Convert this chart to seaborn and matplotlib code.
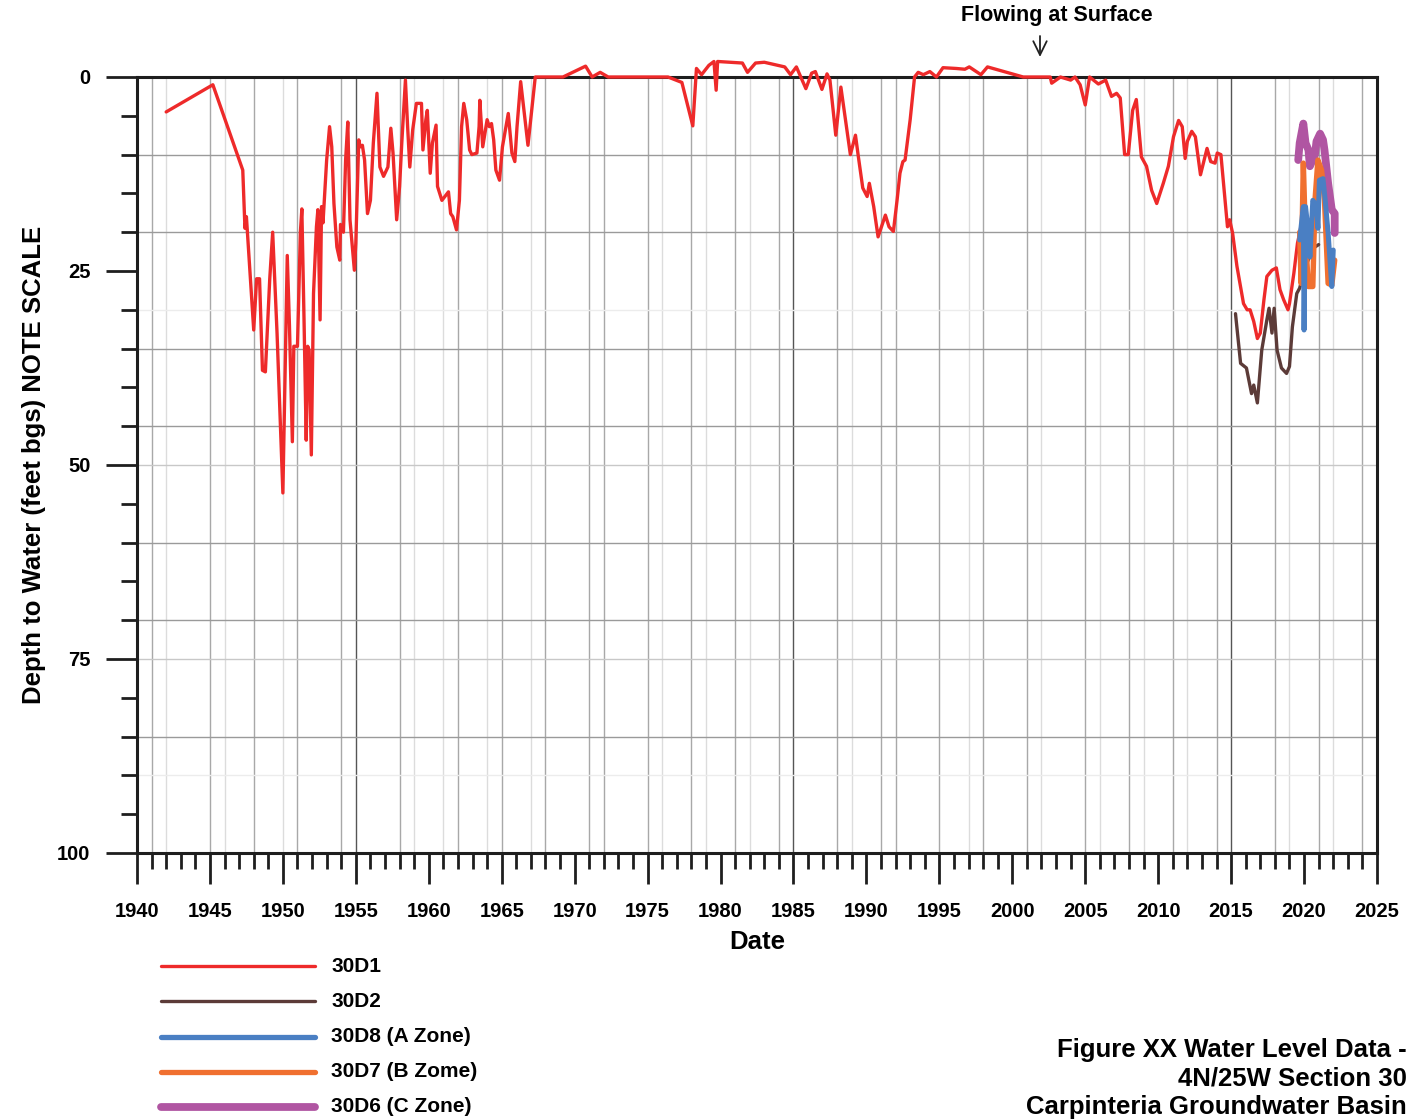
import matplotlib
matplotlib.use("Agg")
import matplotlib.pyplot as plt
import seaborn as sns
import pandas as pd
from matplotlib.lines import Line2D

# ---------------- data (decimal year, depth to water in feet bgs) ----------------
d1_year = [1942.0, 1945.2, 1947.25, 1947.4, 1947.5, 1948.0, 1948.2, 1948.4, 1948.6, 1948.8,
           1949.1, 1949.3, 1949.6, 1949.75, 1950.0, 1950.3, 1950.45, 1950.65, 1950.75, 1951.0,
           1951.2, 1951.3, 1951.45, 1951.6, 1951.7, 1951.8, 1951.95, 1952.1, 1952.3, 1952.4,
           1952.55, 1952.65, 1952.75, 1953.0, 1953.2, 1953.35, 1953.5, 1953.7, 1953.9, 1953.95,
           1954.15, 1954.3, 1954.45, 1954.6, 1954.9, 1955.0, 1955.2, 1955.3, 1955.45, 1955.6,
           1955.8, 1956.0, 1956.2, 1956.45, 1956.65, 1956.9, 1957.2, 1957.4, 1957.55, 1957.8,
           1958.0, 1958.15, 1958.4, 1958.55, 1958.7, 1958.9, 1959.15, 1959.5, 1959.6, 1959.8,
           1959.9, 1960.1, 1960.25, 1960.5, 1960.6, 1960.9, 1961.35, 1961.5, 1961.65, 1961.9,
           1962.1, 1962.25, 1962.4, 1962.6, 1962.8, 1962.95, 1963.3, 1963.45, 1963.5, 1963.7,
           1964.0, 1964.15, 1964.3, 1964.45, 1964.6, 1964.85, 1965.05, 1965.45, 1965.7, 1965.9,
           1966.05, 1966.3, 1966.8, 1967.3, 1969.2, 1970.75, 1971.2, 1971.75, 1972.3, 1976.4,
           1977.35, 1978.1, 1978.35, 1978.7, 1979.2, 1979.55, 1979.7, 1979.8, 1981.5, 1981.85,
           1982.4, 1983.0, 1984.4, 1984.8, 1985.2, 1985.85, 1986.25, 1986.5, 1986.95, 1987.3,
           1987.5, 1987.9, 1988.25, 1988.6, 1988.9, 1989.25, 1989.45, 1989.75, 1990.05, 1990.2,
           1990.5, 1990.8, 1991.3, 1991.55, 1991.85, 1992.1, 1992.3, 1992.5, 1992.65, 1993.0,
           1993.3, 1993.55, 1993.9, 1994.35, 1994.8, 1995.25, 1996.15, 1996.75, 1997.05, 1997.85,
           1998.3, 2000.75, 2002.6, 2002.7, 2003.3, 2004.0, 2004.3, 2004.65, 2005.0, 2005.3,
           2005.9, 2006.4, 2006.8, 2007.15, 2007.4, 2007.7, 2007.95, 2008.25, 2008.5, 2008.85,
           2009.2, 2009.55, 2009.9, 2010.35, 2010.7, 2011.05, 2011.4, 2011.65, 2011.85, 2012.0,
           2012.3, 2012.55, 2012.9, 2013.35, 2013.6, 2013.9, 2014.05, 2014.3, 2014.75, 2014.9,
           2015.1, 2015.4, 2015.85, 2016.1, 2016.3, 2016.55, 2016.8, 2017.0, 2017.25, 2017.45,
           2017.8, 2018.1, 2018.35, 2018.6, 2018.9, 2019.0, 2019.3, 2019.55, 2019.7, 2020.0]
d1_depth = [4.5, 1.0, 12, 19.5, 18, 32.6, 26, 26, 37.8, 38,
            26, 20, 33, 40.8, 53.6, 23, 32, 47, 34.7, 34.7,
            20, 17, 31.3, 46.8, 34.7, 35.2, 48.7, 27.9, 19.3, 17.1,
            31.3, 16.7, 18.8, 10.7, 6.4, 9, 16.3, 21.9, 23.6, 19,
            20, 10.7, 5.8, 18.4, 24.9, 21.4, 8.1, 9, 8.8, 10.7,
            17.6, 15.9, 8.5, 2.1, 11.6, 12.8, 11.6, 6.6, 9.8, 18.4,
            14.1, 8.5, 0.4, 6.4, 11.6, 6.8, 3.4, 3.4, 9.4, 5.5,
            4.3, 12.4, 8.5, 6.2, 14.1, 15.9, 14.8, 17.6, 18, 19.7,
            15.9, 6.4, 3.4, 5.5, 9.4, 10, 9.8, 6.4, 3, 9,
            5.5, 6.4, 6, 8.1, 12, 13.3, 9, 4.7, 9.8, 10.9,
            6.4, 0.6, 8.8, 0, 0, -1.4, 0, -0.6, 0, 0,
            0.7, 6.3, -1.1, -0.3, -1.5, -2.0, 1.7, -2.0, -1.8, -0.6,
            -1.8, -1.9, -1.3, -0.3, -1.3, 1.5, -0.5, -0.7, 1.6, -0.4,
            0.4, 7.5, 1.3, 6, 10, 7.5, 10.3, 14.3, 15.4, 13.7,
            16.7, 20.6, 17.8, 19.3, 19.9, 15.9, 12.4, 10.9, 10.7, 5.5,
            0, -0.6, -0.3, -0.7, 0, -1.2, -1.1, -1.0, -1.3, -0.3,
            -1.3, 0, 0, 0.8, 0, 0.4, 0, 1.0, 3.6, 0,
            0.9, 0.4, 2.5, 2.1, 2.7, 10, 10, 4.3, 2.9, 10.3,
            11.5, 14.6, 16.3, 13.7, 11.5, 7.7, 5.6, 6.4, 10.5, 8.3,
            7.0, 7.7, 12.6, 9.2, 10.9, 11.1, 9.8, 10, 19.3, 18.4,
            20.1, 24.4, 29.2, 30, 30, 31.5, 33.7, 33, 28.7, 25.7,
            24.9, 24.6, 27.4, 28.7, 30, 29.2, 25.3, 21.4, 20.1, 17.0]

d2_year = [2015.3, 2015.65, 2016.05, 2016.4, 2016.55, 2016.8, 2017.1, 2017.45, 2017.6, 2017.8,
           2017.95, 2018.15, 2018.45, 2018.8, 2019.0, 2019.2, 2019.5, 2019.7, 2020.0, 2020.4,
           2020.75, 2021.0]
d2_depth = [30.5, 36.9, 37.5, 40.8, 39.7, 42, 35.2, 31.3, 29.8, 33,
            29.8, 35.2, 37.5, 38.2, 37.3, 32.2, 27.9, 27.2, 25.0, 23.0,
            21.9, 21.6]

d6_year = [2019.6, 2019.7, 2019.95, 2020.1, 2020.3, 2020.4, 2020.75, 2020.85, 2021.1, 2021.3,
           2021.4, 2021.65, 2021.9, 2022.1, 2022.1]
d6_depth = [10.7, 8.5, 6.0, 8.5, 9.4, 11.5, 10.0, 8.3, 7.3, 8.1,
            9.4, 13.7, 17.1, 17.6, 20.1]

d7_year = [2019.7, 2019.8, 2019.95, 2020.1, 2020.3, 2020.6, 2020.75, 2020.95, 2021.2, 2021.4,
           2021.65, 2021.9, 2022.1]
d7_depth = [20.0, 26.6, 11.1, 21.0, 27.0, 27.0, 15.9, 10.7, 12.0, 15.9,
            26.6, 26.8, 23.6]

d8_year = [2019.7, 2019.95, 2020.0, 2020.1, 2020.3, 2020.4, 2020.6, 2020.85, 2020.95, 2021.05,
           2021.3, 2021.45, 2021.65, 2021.9, 2022.0]
d8_depth = [21.0, 16.7, 32.6, 16.7, 20.1, 23.2, 15.9, 16.7, 19.5, 13.3,
            13.1, 15.9, 20.1, 27.0, 22.3]

well_names = ["30D1", "30D2", "30D8 (A Zone)", "30D7 (B Zome)", "30D6 (C Zone)"]
well_colors = ["#ee2a2a", "#5c3b38", "#4a7fc3", "#f07030", "#b055a2"]

x_tick_labels = [str(y) for y in range(1940, 2030, 5)]
y_tick_labels = ["0", "25", "50", "75", "100"]

# ---------------- style ----------------
sns.set_theme(style="white")
plt.rcParams["font.family"] = ["Liberation Sans", "DejaVu Sans"]
plt.rcParams["font.weight"] = "bold"
plt.rcParams["axes.labelweight"] = "bold"
plt.rcParams["text.color"] = "black"
plt.rcParams["axes.labelcolor"] = "black"
plt.rcParams["xtick.color"] = "black"
plt.rcParams["ytick.color"] = "black"

W, H = 1425, 1119
fig = plt.figure(figsize=(W / 100, H / 100), dpi=100)
ax = fig.add_axes([137 / W, 1 - 853 / H, 1240 / W, 776 / H])

# irregular grid like the original
medium_v = [1941, 1945, 1948, 1951, 1954, 1958, 1962, 1965, 1968, 1971, 1972, 1975, 1978,
            1981, 1984, 1988, 1991, 1992, 1995, 1998, 2001, 2005, 2008, 2011, 2014, 2018,
            2021, 2024]
light_v = [1942, 1946, 1950, 1959, 1961, 1964, 1967, 1976, 1979, 1982, 1989, 1997, 2002,
           2006, 2009, 2012, 2019, 2022]
dark_v = [1955, 1985, 2015]
for yv in light_v:
    ax.axvline(yv, color="#dcdcdc", lw=1.0, zorder=0)
for yv in medium_v:
    ax.axvline(yv, color="#a8a8a8", lw=1.0, zorder=0)
for yv in dark_v:
    ax.axvline(yv, color="#555555", lw=1.0, zorder=0)
for hv in [10, 20, 35, 45, 60, 70, 85]:
    ax.axhline(hv, color="#9a9a9a", lw=1.0, zorder=0)
for hv in [50, 75]:
    ax.axhline(hv, color="#c8c8c8", lw=1.0, zorder=0)
for hv in [30, 90]:
    ax.axhline(hv, color="#ececec", lw=1.0, zorder=0)

series = [
    (d1_year, d1_depth, 0, 2.4),
    (d2_year, d2_depth, 1, 2.4),
    (d6_year, d6_depth, 4, 5.6),
    (d7_year, d7_depth, 3, 3.9),
    (d8_year, d8_depth, 2, 3.6),
]
for xs, ys, idx, lw in series:
    df = pd.DataFrame({"Date": xs, "Depth": ys})
    sns.lineplot(data=df, x="Date", y="Depth", ax=ax, color=well_colors[idx], linewidth=lw,
                 sort=False, estimator=None, legend=False, zorder=3)
for ln in ax.lines:
    ln.set_clip_on(False)
    ln.set_solid_joinstyle("round")

ax.set_xlim(1940, 2025)
ax.set_ylim(100, 0)

ax.set_xticks(range(1940, 2030, 5))
ax.set_xticklabels(x_tick_labels, fontsize=14.5, fontweight="bold")
ax.set_xticks(range(1940, 2026), minor=True)
ax.set_yticks([0, 25, 50, 75, 100])
ax.set_yticklabels(y_tick_labels, fontsize=14.5, fontweight="bold")
ax.set_yticks(range(0, 101, 5), minor=True)

ax.tick_params(axis="both", which="major", direction="out", length=22.5, width=2.0,
               color="#1e1e1e", labelcolor="black")
ax.tick_params(axis="both", which="minor", direction="out", length=11.5, width=2.0,
               color="#1e1e1e")
ax.tick_params(axis="x", which="major", pad=13)
ax.tick_params(axis="y", which="major", pad=11)
ax.tick_params(top=False, right=False, which="both")
ax.tick_params(bottom=True, left=True, which="both")

for sp in ax.spines.values():
    sp.set_visible(True)
    sp.set_linewidth(2.2)
    sp.set_color("#1e1e1e")
    sp.set_zorder(2)

ax.set_xlabel("Date", fontsize=18.5, fontweight="bold", labelpad=6, color="black")
ax.set_ylabel("Depth to Water (feet bgs) NOTE SCALE", fontsize=18.5, fontweight="bold",
              labelpad=8, color="black")

# annotation
fig.text(1057 / W, 1 - 15 / H, "Flowing at Surface", ha="center", va="center",
         fontsize=15.5, fontweight="bold", color="black")
ax.annotate("", xy=(1040 / W, 1 - 57 / H), xytext=(1040 / W, 1 - 36 / H),
            xycoords="figure fraction", textcoords="figure fraction",
            arrowprops=dict(arrowstyle="->,head_length=0.45,head_width=0.22", lw=1.3,
                            color="#222222", mutation_scale=22, shrinkA=0, shrinkB=0))

# legend (drawn below the axes)
legend_widths = [2.4, 2.4, 3.8, 3.8, 5.6]
for i, (name, col, lw) in enumerate(zip(well_names, well_colors, legend_widths)):
    yy = 1 - (966 + i * 35.25) / H
    fig.add_artist(Line2D([161 / W, 315 / W], [yy, yy], color=col, lw=lw,
                          solid_capstyle="round", transform=fig.transFigure))
    fig.text(331 / W, yy, name, ha="left", va="center", fontsize=15, fontweight="bold",
             color="black")

# figure title block
title_lines = ["Figure XX Water Level Data -", "4N/25W Section 30", "Carpinteria Groundwater Basin"]
for i, t in enumerate(title_lines):
    fig.text(1407 / W, 1 - (1050 + i * 28.5) / H, t, ha="right", va="center",
             fontsize=18.5, fontweight="bold", color="black")

fig.savefig("out.png", dpi=100)
